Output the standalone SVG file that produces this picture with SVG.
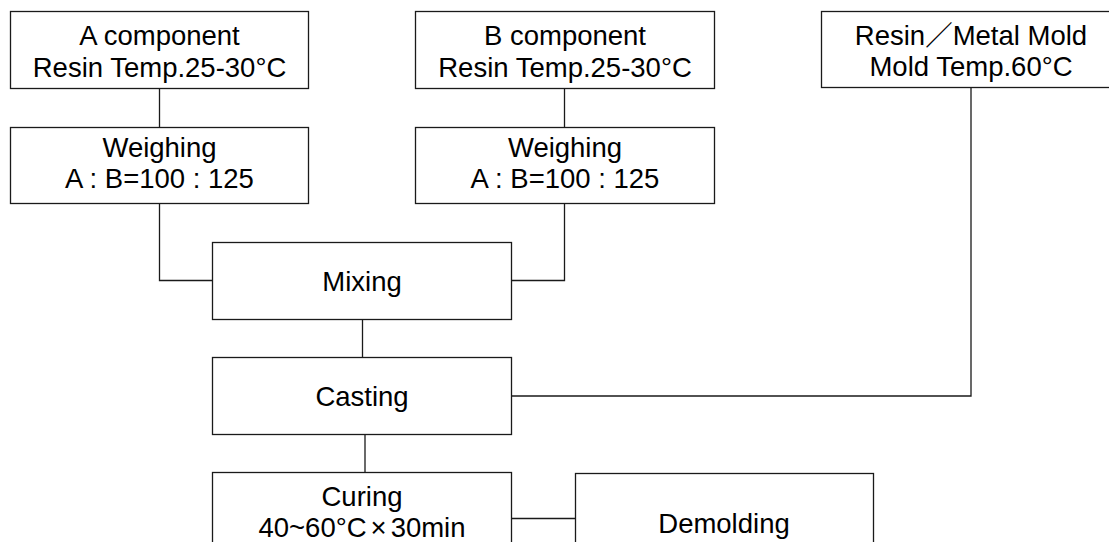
<svg xmlns="http://www.w3.org/2000/svg" width="1109" height="542" viewBox="0 0 1109 542">
<style>
rect.box{fill:#fff;stroke:#1a1a1a;stroke-width:1.3}
.conn path{fill:none;stroke:#1a1a1a;stroke-width:1.3}
text{font-family:"Liberation Sans",Arial,"Noto Sans CJK JP",sans-serif;font-size:27.5px;fill:#000;text-anchor:middle}
</style>
<rect width="1109" height="542" fill="#fff"/>
<g class="conn" id="connectors">
<path d="M159.5,88.5V127.5"/>
<path d="M564.5,88.5V127.5"/>
<path d="M159.5,203.5V280.5H212.5"/>
<path d="M564.5,203.5V280.5H511.5"/>
<path d="M362.5,319.5V357.5"/>
<path d="M365,434.5V472.5"/>
<path d="M971,87.5V396H511.5"/>
<path d="M511.5,518.5H575.5"/>
</g>
<g id="a-component">
<rect class="box" x="10.5" y="11.5" width="298" height="77"/>
<text x="159.5" y="45">A component</text>
<text x="159.5" y="76.5">Resin Temp.25-30°C</text>
</g>
<g id="b-component">
<rect class="box" x="415.5" y="11.5" width="299" height="77"/>
<text x="565" y="45">B component</text>
<text x="565" y="76.5">Resin Temp.25-30°C</text>
</g>
<g id="mold">
<rect class="box" x="821.5" y="11.5" width="298" height="76"/>
<text x="971" y="45">Resin／Metal Mold</text>
<text x="971" y="76">Mold Temp.60°C</text>
</g>
<g id="weighing-a">
<rect class="box" x="10.5" y="127.5" width="298" height="76"/>
<text x="159.5" y="156.5">Weighing</text>
<text x="159.5" y="188">A : B=100 : 125</text>
</g>
<g id="weighing-b">
<rect class="box" x="415.5" y="127.5" width="299" height="76"/>
<text x="565" y="156.5">Weighing</text>
<text x="565" y="188">A : B=100 : 125</text>
</g>
<g id="mixing">
<rect class="box" x="212.5" y="242.5" width="299" height="77"/>
<text x="362" y="290.5">Mixing</text>
</g>
<g id="casting">
<rect class="box" x="212.5" y="357.5" width="299" height="77"/>
<text x="362" y="405.5">Casting</text>
</g>
<g id="curing">
<rect class="box" x="212.5" y="472.5" width="299" height="80"/>
<text x="362" y="505.5">Curing</text>
<text x="362" y="537">40~60°C<tspan dx="4">×</tspan><tspan dx="4">30min</tspan></text>
</g>
<g id="demolding">
<rect class="box" x="575.5" y="473.5" width="298" height="80"/>
<text x="724" y="532.5">Demolding</text>
</g>
</svg>
